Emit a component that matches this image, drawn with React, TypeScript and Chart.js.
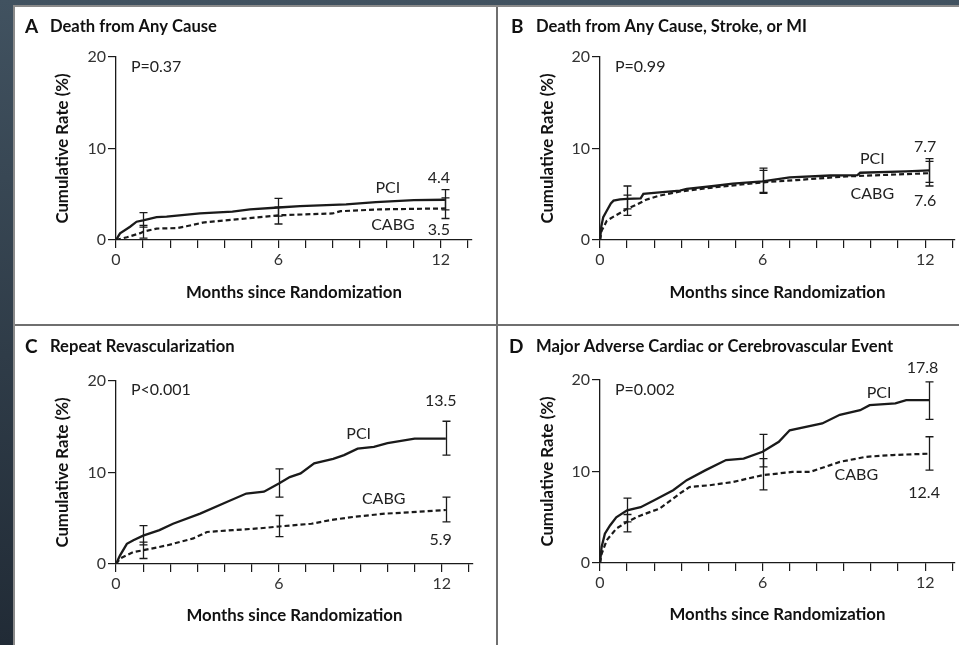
import { useEffect, useRef } from 'react';
import { Chart, registerables } from 'chart.js';
Chart.register(...registerables);

// ---------- shared axis data ----------
const MONTH_TICKS = [0, 1, 2, 3, 4, 5, 6, 7, 8, 9, 10, 11, 12, 13];
const LABELLED_MONTHS = [0, 6, 12];
const RATE_TICKS = [0, 10, 20];
const ERR_MONTHS = [1, 6, 12.15];

// ---------- Panel A: Death from Any Cause ----------
const A_PCI_MONTHS = [0, 0.15, 0.52, 0.76, 1.0, 1.5, 1.87, 3.1, 4.3, 4.95, 6.0, 6.8, 8.5, 9.6, 11.0, 12.15];
const A_PCI_RATE = [0, 0.73, 1.45, 2.0, 2.15, 2.5, 2.55, 2.9, 3.1, 3.35, 3.55, 3.7, 3.9, 4.15, 4.35, 4.4];
const A_CABG_MONTHS = [0, 0.4, 0.9, 1.0, 1.5, 2.25, 2.6, 3.2, 3.7, 4.8, 6.0, 8.0, 8.3, 9.75, 12.15];
const A_CABG_RATE = [0, 0.3, 0.75, 0.9, 1.25, 1.3, 1.5, 1.9, 2.05, 2.35, 2.7, 2.9, 3.15, 3.35, 3.45];
const A_PCI_LO = [1.4, 2.6, 3.3];
const A_PCI_HI = [3.0, 4.55, 5.5];
const A_CABG_LO = [0.2, 1.75, 2.35];
const A_CABG_HI = [1.6, 3.6, 4.6];

// ---------- Panel B: Death from Any Cause, Stroke, or MI ----------
const B_PCI_MONTHS = [0, 0.05, 0.12, 0.25, 0.4, 0.5, 0.74, 1.0, 1.5, 1.6, 2.2, 2.95, 3.2, 4.2, 4.9, 6.0, 7.0, 8.5, 9.5, 9.6, 11.3, 12.15];
const B_PCI_RATE = [0, 1.5, 2.5, 3.2, 4.0, 4.3, 4.45, 4.5, 4.55, 5.05, 5.2, 5.4, 5.6, 5.9, 6.15, 6.4, 6.85, 7.05, 7.1, 7.35, 7.5, 7.6];
const B_CABG_MONTHS = [0, 0.06, 0.25, 0.5, 1.0, 1.35, 1.7, 2.2, 2.95, 4.2, 6.0, 7.25, 9.1, 12.15];
const B_CABG_RATE = [0, 1.0, 2.1, 2.55, 3.4, 3.85, 4.4, 4.85, 5.3, 5.75, 6.3, 6.55, 6.95, 7.3];
const B_PCI_LO = [3.4, 5.2, 6.3];
const B_PCI_HI = [5.9, 7.85, 8.9];
const B_CABG_LO = [2.7, 5.1, 5.9];
const B_CABG_HI = [4.9, 7.6, 8.6];

// ---------- Panel C: Repeat Revascularization ----------
const C_PCI_MONTHS = [0, 0.15, 0.4, 0.64, 1.0, 1.6, 2.1, 3.1, 4.1, 4.8, 5.45, 6.0, 6.4, 6.8, 7.3, 8.0, 8.4, 8.9, 9.5, 10.0, 11.0, 12.15];
const C_PCI_RATE = [0, 0.95, 2.2, 2.6, 3.1, 3.7, 4.4, 5.5, 6.8, 7.7, 7.9, 8.8, 9.5, 9.9, 11.0, 11.5, 11.9, 12.6, 12.8, 13.2, 13.7, 13.7];
const C_CABG_MONTHS = [0, 0.15, 0.64, 1.0, 1.9, 2.85, 3.35, 4.3, 5.3, 6.0, 7.2, 7.9, 8.75, 9.9, 11.1, 12.15];
const C_CABG_RATE = [0, 0.6, 1.3, 1.5, 2.05, 2.8, 3.5, 3.7, 3.9, 4.1, 4.4, 4.8, 5.15, 5.5, 5.7, 5.9];
const C_PCI_LO = [2.1, 7.3, 11.9];
const C_PCI_HI = [4.2, 10.4, 15.6];
const C_CABG_LO = [0.6, 3.0, 4.6];
const C_CABG_HI = [2.4, 5.3, 7.3];

// ---------- Panel D: Major Adverse Cardiac or Cerebrovascular Event ----------
const D_PCI_MONTHS = [0, 0.06, 0.18, 0.37, 0.6, 1.0, 1.5, 2.0, 2.7, 3.2, 3.9, 4.65, 5.3, 6.0, 6.6, 7.0, 8.2, 8.85, 9.6, 9.95, 10.9, 11.3, 12.15];
const D_PCI_RATE = [0, 1.75, 3.2, 4.1, 5.0, 5.75, 6.1, 6.85, 7.95, 9.05, 10.15, 11.25, 11.4, 12.15, 13.25, 14.5, 15.25, 16.2, 16.7, 17.25, 17.45, 17.8, 17.8];
const D_CABG_MONTHS = [0, 0.06, 0.25, 0.6, 1.0, 1.5, 2.2, 2.95, 3.3, 4.05, 4.9, 6.0, 7.1, 7.75, 8.5, 8.85, 9.8, 10.8, 12.15];
const D_CABG_RATE = [0, 1.0, 2.5, 3.75, 4.5, 5.2, 5.95, 7.6, 8.3, 8.5, 8.85, 9.6, 9.95, 9.95, 10.7, 11.05, 11.6, 11.8, 11.95];
const D_PCI_LO = [4.5, 10.5, 15.7];
const D_PCI_HI = [7.1, 14.05, 19.8];
const D_CABG_LO = [3.4, 8.0, 10.15];
const D_CABG_HI = [5.3, 11.4, 13.8];

type Label = { text: string; month: number; rate: number; align?: CanvasTextAlign };

type PanelCfg = {
  letter: string;
  title: string;
  left: number; top: number; width: number; height: number;
  chartLeft: number; chartTop: number; chartBottom: number; padRight: number;
  xMax: number;
  yTitlePad: number; xTitlePad: number;
  letterX: number; titleX: number; titleY: number;
  pciMonths: number[]; pciRate: number[];
  cabgMonths: number[]; cabgRate: number[];
  pciLo: number[]; pciHi: number[]; cabgLo: number[]; cabgHi: number[];
  labels: Label[];
};

const FONT = 'Lato, "Open Sans", sans-serif';
const INK = '#1a1a1a';

const PANELS: PanelCfg[] = [
  {
    letter: 'A', title: 'Death from Any Cause',
    left: 15, top: 7, width: 481, height: 317,
    chartLeft: 101, chartTop: 50, chartBottom: 233, padRight: 24, xMax: 13.15,
    yTitlePad: 38, xTitlePad: 21,
    letterX: 10, titleX: 35, titleY: 20,
    pciMonths: A_PCI_MONTHS, pciRate: A_PCI_RATE, cabgMonths: A_CABG_MONTHS, cabgRate: A_CABG_RATE,
    pciLo: A_PCI_LO, pciHi: A_PCI_HI, cabgLo: A_CABG_LO, cabgHi: A_CABG_HI,
    labels: [
      { text: 'P=0.37', month: 0.55, rate: 18.9, align: 'left' },
      { text: 'PCI', month: 10.04, rate: 5.7 },
      { text: '4.4', month: 11.93, rate: 6.8 },
      { text: 'CABG', month: 10.23, rate: 1.65 },
      { text: '3.5', month: 11.93, rate: 1.1 },
    ],
  },
  {
    letter: 'B', title: 'Death from Any Cause, Stroke, or MI',
    left: 498, top: 7, width: 461, height: 317,
    chartLeft: 102, chartTop: 50, chartBottom: 233, padRight: 4, xMax: 13.1,
    yTitlePad: 40, xTitlePad: 21,
    letterX: 13, titleX: 38, titleY: 20,
    pciMonths: B_PCI_MONTHS, pciRate: B_PCI_RATE, cabgMonths: B_CABG_MONTHS, cabgRate: B_CABG_RATE,
    pciLo: B_PCI_LO, pciHi: B_PCI_HI, cabgLo: B_CABG_LO, cabgHi: B_CABG_HI,
    labels: [
      { text: 'P=0.99', month: 0.55, rate: 18.9, align: 'left' },
      { text: 'PCI', month: 10.05, rate: 8.85 },
      { text: '7.7', month: 12.0, rate: 10.15 },
      { text: 'CABG', month: 10.05, rate: 5.0 },
      { text: '7.6', month: 12.0, rate: 4.25 },
    ],
  },
  {
    letter: 'C', title: 'Repeat Revascularization',
    left: 15, top: 326, width: 481, height: 319,
    chartLeft: 101, chartTop: 55, chartBottom: 238, padRight: 23, xMax: 13.15,
    yTitlePad: 38, xTitlePad: 19,
    letterX: 10, titleX: 35, titleY: 21,
    pciMonths: C_PCI_MONTHS, pciRate: C_PCI_RATE, cabgMonths: C_CABG_MONTHS, cabgRate: C_CABG_RATE,
    pciLo: C_PCI_LO, pciHi: C_PCI_HI, cabgLo: C_CABG_LO, cabgHi: C_CABG_HI,
    labels: [
      { text: 'P<0.001', month: 0.55, rate: 19.0, align: 'left' },
      { text: '13.5', month: 11.96, rate: 17.8 },
      { text: 'PCI', month: 8.94, rate: 14.2 },
      { text: 'CABG', month: 9.86, rate: 7.1 },
      { text: '5.9', month: 11.96, rate: 2.6 },
    ],
  },
  {
    letter: 'D', title: 'Major Adverse Cardiac or Cerebrovascular Event',
    left: 498, top: 326, width: 461, height: 319,
    chartLeft: 102, chartTop: 54, chartBottom: 237, padRight: 4, xMax: 13.1,
    yTitlePad: 40, xTitlePad: 20,
    letterX: 11, titleX: 38, titleY: 21,
    pciMonths: D_PCI_MONTHS, pciRate: D_PCI_RATE, cabgMonths: D_CABG_MONTHS, cabgRate: D_CABG_RATE,
    pciLo: D_PCI_LO, pciHi: D_PCI_HI, cabgLo: D_CABG_LO, cabgHi: D_CABG_HI,
    labels: [
      { text: 'P=0.002', month: 0.55, rate: 18.9, align: 'left' },
      { text: '17.8', month: 11.9, rate: 21.3 },
      { text: 'PCI', month: 10.3, rate: 18.6 },
      { text: 'CABG', month: 9.46, rate: 9.6 },
      { text: '12.4', month: 11.96, rate: 7.65 },
    ],
  },
];

function toPoints(xs: number[], ys: number[]) {
  return xs.map((x, i) => ({ x, y: ys[i] }));
}

function makeAnnotate(cfg: PanelCfg) {
  return {
    id: 'annotate',
    afterDatasetsDraw(chart: any) {
      const { ctx, scales } = chart;
      const x = scales.x;
      const y = scales.y;
      ctx.save();
      // error bars
      ctx.strokeStyle = INK;
      ctx.lineWidth = 1.3;
      const bars: [number, number, number][] = [];
      ERR_MONTHS.forEach((m, i) => {
        bars.push([m, cfg.pciLo[i], cfg.pciHi[i]]);
        bars.push([m, cfg.cabgLo[i], cfg.cabgHi[i]]);
      });
      for (const [m, lo, hi] of bars) {
        const px = Math.round(x.getPixelForValue(m)) + 0.5;
        const p1 = y.getPixelForValue(lo);
        const p2 = y.getPixelForValue(hi);
        ctx.beginPath();
        ctx.moveTo(px, p1); ctx.lineTo(px, p2);
        ctx.moveTo(px - 4, p1); ctx.lineTo(px + 4, p1);
        ctx.moveTo(px - 4, p2); ctx.lineTo(px + 4, p2);
        ctx.stroke();
      }
      // curve labels, end values, P values
      ctx.fillStyle = '#222';
      ctx.textBaseline = 'middle';
      ctx.font = `400 16px ${FONT}`;
      for (const l of cfg.labels) {
        ctx.textAlign = l.align || 'center';
        ctx.fillText(l.text, x.getPixelForValue(l.month), y.getPixelForValue(l.rate));
      }
      // panel title
      ctx.fillStyle = '#111';
      ctx.textAlign = 'left';
      ctx.font = `700 19px ${FONT}`;
      ctx.fillText(cfg.letter, cfg.letterX, cfg.titleY);
      ctx.font = `700 16.6px ${FONT}`;
      ctx.fillText(cfg.title, cfg.titleX, cfg.titleY);
      ctx.restore();
    },
  };
}

function Panel({ cfg }: { cfg: PanelCfg }) {
  const ref = useRef<HTMLCanvasElement>(null);
  useEffect(() => {
    if (!ref.current) return;
    const tickFont = { family: FONT, size: 16, weight: 'normal' as const };
    const titleFont = { family: FONT, size: 16.8, weight: 'bold' as const };
    const chart = new Chart(ref.current, {
      type: 'line',
      data: {
        datasets: [
          {
            label: 'PCI',
            data: toPoints(cfg.pciMonths, cfg.pciRate),
            borderColor: INK,
            borderWidth: 2.3,
            pointRadius: 0,
            tension: 0,
          },
          {
            label: 'CABG',
            data: toPoints(cfg.cabgMonths, cfg.cabgRate),
            borderColor: INK,
            borderWidth: 2.2,
            borderDash: [5, 3],
            pointRadius: 0,
            tension: 0,
          },
        ],
      },
      options: {
        animation: false,
        responsive: false,
        events: [],
        layout: { padding: { top: cfg.chartTop, right: cfg.padRight, left: 0, bottom: 0 } },
        plugins: { legend: { display: false }, tooltip: { enabled: false }, title: { display: false } },
        scales: {
          x: {
            type: 'linear',
            min: 0,
            max: cfg.xMax,
            afterFit: (s: any) => { s.height = cfg.height - cfg.chartBottom; },
            afterBuildTicks: (s: any) => { s.ticks = MONTH_TICKS.map((v) => ({ value: v })); },
            ticks: {
              autoSkip: false,
              maxRotation: 0,
              padding: 2,
              color: '#333',
              font: tickFont,
              callback: (v: any) => (LABELLED_MONTHS.includes(Number(v)) ? String(v) : ''),
            },
            grid: { drawOnChartArea: false, drawTicks: true, tickLength: 8, color: INK, lineWidth: 1.2 },
            border: { display: true, color: INK, width: 1.3 },
            title: {
              display: true,
              text: 'Months since Randomization',
              color: '#111',
              font: titleFont,
              padding: { top: 0, bottom: cfg.xTitlePad },
            },
          },
          y: {
            type: 'linear',
            min: 0,
            max: 20,
            afterFit: (s: any) => { s.width = cfg.chartLeft; },
            afterBuildTicks: (s: any) => { s.ticks = RATE_TICKS.map((v) => ({ value: v })); },
            ticks: { padding: 2, color: '#333', font: tickFont },
            grid: { drawOnChartArea: false, drawTicks: true, tickLength: 8, color: INK, lineWidth: 1.2 },
            border: { display: true, color: INK, width: 1.3 },
            title: {
              display: true,
              text: 'Cumulative Rate (%)',
              color: '#111',
              font: titleFont,
              padding: { top: cfg.yTitlePad, bottom: 0 },
            },
          },
        },
      },
      plugins: [makeAnnotate(cfg)],
    });
    return () => chart.destroy();
  }, [cfg]);
  return (
    <canvas
      ref={ref}
      width={cfg.width}
      height={cfg.height}
      style={{ position: 'absolute', left: cfg.left, top: cfg.top, width: cfg.width, height: cfg.height }}
    />
  );
}

export default function App() {
  return (
    <div
      style={{
        position: 'absolute',
        left: 0,
        top: 0,
        width: 959,
        height: 645,
        overflow: 'hidden',
        background: 'linear-gradient(to bottom, #415260 0%, #2f3c48 55%, #212b36 100%)',
      }}
    >
      <div
        style={{
          position: 'absolute',
          left: 13,
          top: 5,
          right: 0,
          bottom: 0,
          background: '#fff',
          borderTop: '2px solid #8a8a8a',
          borderLeft: '2px solid #8a8a8a',
          boxSizing: 'border-box',
        }}
      />
      <div style={{ position: 'absolute', left: 496, top: 7, width: 2, height: 638, background: '#6f6f6f' }} />
      <div style={{ position: 'absolute', left: 15, top: 324, width: 944, height: 2, background: '#6f6f6f' }} />
      {PANELS.map((p) => (
        <Panel key={p.letter} cfg={p} />
      ))}
    </div>
  );
}
